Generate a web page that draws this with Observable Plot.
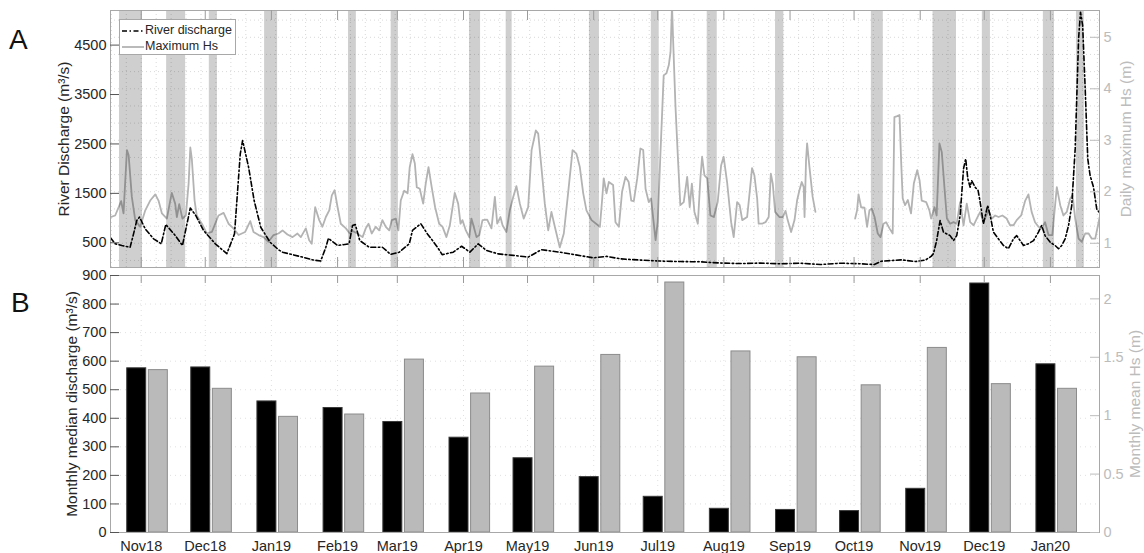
<!DOCTYPE html>
<html><head><meta charset="utf-8">
<script src="https://cdn.jsdelivr.net/npm/d3@7"></script>
<script src="https://cdn.jsdelivr.net/npm/@observablehq/plot@0.6"></script>
<style>
html,body{margin:0;padding:0;background:#fff;}
#wrap{position:relative;width:1144px;height:553px;overflow:hidden;font-family:"Liberation Sans",Arial,sans-serif;color:#262626;}
#top,#bot{position:absolute;left:0;}
#top{top:0;} #bot{top:270px;}
.letter{position:absolute;font-size:28px;color:#111;font-family:"Liberation Sans",Arial,sans-serif;}
#legend{position:absolute;left:119px;top:19px;width:115px;height:34px;border:1px solid #a8a8a8;background:#fff;font-size:12.5px;color:#262626;}
#legend .row{position:absolute;left:2px;height:14px;line-height:14px;white-space:nowrap;}
#legend svg{vertical-align:middle;}
</style></head><body>
<div id="wrap">
  <div id="top"></div>
  <div id="bot"></div>
  <div class="letter" style="left:9px;top:24px;">A</div>
  <div class="letter" style="left:11px;top:287px;">B</div>
  <div id="legend">
    <div class="row" style="top:3px;"><svg width="22" height="4"><line x1="0" y1="2" x2="22" y2="2" stroke="#000" stroke-width="1.6" stroke-dasharray="5,2.5,1.5,2.5"/></svg><span style="margin-left:1px">River discharge</span></div>
    <div class="row" style="top:19px;"><svg width="22" height="4"><line x1="0" y1="2" x2="22" y2="2" stroke="#b3b3b3" stroke-width="1.8"/></svg><span style="margin-left:1px">Maximum Hs</span></div>
  </div>
</div>
<script>
// ---------- data (days counted from 2018-11-01) ----------
const qDay = [-14.4,-12.2,-9.1,-5.2,-3.6,-2.1,-0.8,1.9,5.8,9.4,11.5,15.9,19.3,23.0,25.6,29.2,34.7,40.1,43.7,46.4,47.5,50.3,52.9,56.0,60.4,64.3,66.2,75.6,80.3,84.1,86.5,87.7,92.0,97.4,99.0,100.3,102.4,106.8,113.0,116.9,120.9,125.6,127.1,131.0,134.1,136.5,138.8,141.0,146.2,150.1,154.0,157.9,161.8,167.3,174.3,181.3,187.5,196.1,202.4,211.8,218.0,224.6,233.9,243.3,252.6,262.0,271.4,280.7,290.1,299.5,309.0,318.2,327.6,336.9,343.5,346.8,356.1,362.8,367.4,370.1,371.2,372.7,374.3,375.9,379.0,380.6,382.1,383.7,385.3,386.3,387.3,388.4,389.1,390.7,392.1,393.1,394.6,396.6,397.8,399.3,401.6,404.0,406.3,408.7,410.2,411.8,413.4,415.7,418.1,420.4,421.9,423.5,425.9,428.2,429.8,431.3,432.9,434.5,436.0,437.6,439.2,440.1,441.1,442.3,443.5,444.6,446.2,447.7,448.8];
const qVal = [600,480,445,410,680,950,1020,780,580,480,870,650,445,1205,1050,750,480,280,680,2300,2570,2030,1355,815,510,360,310,210,155,130,410,590,445,480,850,870,545,410,410,265,310,480,750,885,680,545,410,260,310,430,310,480,345,275,245,210,360,310,265,195,225,175,150,130,120,115,90,80,90,75,87,60,87,75,60,127,155,120,150,225,280,545,950,715,645,545,645,1050,2000,2200,1795,1625,1760,1625,1560,1320,885,1255,1050,715,580,445,380,580,645,545,445,480,545,715,850,645,510,445,380,445,580,850,1255,2400,4630,5165,4900,3615,2200,1860,1625,1185,1120];

const hsDay = [-14.4,-12.2,-9.4,-8.3,-6.7,-5.9,-4.4,-2.8,-0.5,1.9,4.2,6.6,8.1,9.7,12.0,14.3,15.9,16.7,17.8,19.3,20.9,22.2,23.0,23.7,25.0,26.0,28.4,30.7,33.1,36.2,38.6,40.9,43.2,45.6,48.7,51.1,52.6,55.0,57.3,59.6,62.0,64.3,66.2,68.5,70.9,73.2,74.8,77.1,78.7,79.9,81.5,83.4,84.9,86.5,88.1,89.3,90.6,92.0,93.5,95.9,97.7,99.0,101.3,103.7,105.2,106.5,108.0,109.9,111.5,113.0,114.6,116.2,117.4,119.3,120.5,121.6,123.2,124.8,125.8,127.1,128.2,129.1,130.5,132.1,133.3,134.6,136.1,137.7,139.6,141.2,143.0,144.6,146.9,148.5,149.6,150.5,152.1,153.7,154.7,155.8,157.1,158.4,159.9,162.1,164.1,165.7,166.8,168.3,169.3,171.1,172.7,174.3,175.8,177.4,179.2,181.3,182.9,184.9,186.0,187.5,189.1,190.7,192.2,193.8,196.1,198.0,200.0,202.1,203.9,205.5,207.1,208.6,211.0,214.9,216.0,216.7,218.0,219.1,221.1,222.2,223.8,225.3,226.9,228.4,229.6,230.8,232.4,233.9,235.2,236.3,237.8,238.9,239.9,241.0,242.0,243.3,244.8,246.1,247.2,248.0,248.7,249.2,250.3,251.4,252.6,254.2,255.8,257.0,258.0,259.2,260.8,262.0,262.8,263.9,265.2,266.7,268.3,270.1,271.7,272.9,274.5,276.4,277.6,279.2,280.4,281.6,283.9,285.1,286.2,287.3,288.6,289.3,290.9,292.5,294.0,295.0,295.9,297.0,299.0,300.6,301.9,302.9,304.5,306.1,307.3,308.4,309.5,310.4,310.8,311.5,312.0,313.1,314.6,315.9,316.5,334.5,335.4,336.1,337.3,338.9,340.1,341.2,342.3,343.6,345.1,346.4,347.8,349.0,350.6,352.1,352.9,354.2,355.3,356.1,356.8,357.9,359.2,360.7,362.0,363.6,364.7,365.7,367.8,369.3,370.1,371.7,372.7,374.0,375.1,376.4,377.5,379.0,380.6,382.1,383.7,385.3,386.8,388.4,390.0,391.5,393.1,394.6,397.0,398.5,400.1,401.7,403.5,405.5,407.1,408.7,410.2,412.3,414.2,415.7,417.2,418.8,420.4,421.9,423.5,425.1,426.9,428.2,429.0,430.6,432.1,433.7,435.3,436.4,437.6,439.2,440.7,442.3,443.9,445.4,447.0,448.6,449.0];
const hsVal = [1.51,1.54,1.82,1.58,2.81,2.71,1.90,1.45,1.32,1.64,1.83,1.95,1.83,1.58,1.48,1.98,1.77,1.51,1.76,1.48,1.54,2.16,2.86,2.64,1.83,1.54,1.38,1.19,1.22,1.54,1.59,1.38,1.29,1.16,1.22,1.43,1.22,1.16,1.12,1.03,1.16,1.19,1.25,1.17,1.12,1.19,1.12,1.29,1.06,0.99,1.70,1.45,1.32,1.51,1.64,1.93,2.03,1.70,1.38,1.29,1.19,1.24,1.19,1.12,1.29,1.38,1.19,1.32,1.25,1.45,1.32,1.25,1.45,1.48,1.25,1.83,2.02,1.97,2.48,2.73,2.55,2.09,2.06,1.77,2.16,2.48,2.09,1.70,1.38,1.32,1.12,1.35,1.98,1.77,1.38,1.45,1.25,1.12,1.48,1.32,1.12,1.16,1.45,1.46,1.29,1.90,1.38,1.51,1.35,1.22,1.64,1.90,2.11,1.77,1.48,1.70,2.81,3.19,3.13,2.48,1.77,1.25,1.61,1.32,0.92,1.19,1.97,2.81,2.74,2.48,1.97,1.64,1.45,1.32,1.87,2.26,1.97,2.19,2.13,1.41,1.32,2.00,2.29,2.19,1.83,1.82,2.26,2.84,2.81,2.06,1.80,1.87,1.48,1.06,1.41,2.77,4.26,4.30,4.46,4.71,5.62,4.97,3.68,2.71,1.74,1.80,2.29,1.70,2.16,1.61,1.38,2.26,2.68,2.32,2.26,1.54,1.51,1.80,2.51,2.68,2.19,1.41,1.12,1.80,1.74,1.45,1.51,2.00,2.46,2.32,1.87,1.38,1.38,1.41,1.51,2.35,2.16,1.61,1.51,1.51,1.63,1.45,1.22,1.45,1.83,2.03,2.19,2.09,1.51,2.61,2.94,2.48,1.90,1.61,null,1.48,1.64,1.95,1.70,1.69,1.32,1.64,1.67,1.51,1.19,1.12,1.38,1.41,1.29,1.19,3.45,3.47,3.49,2.55,1.87,1.74,1.84,1.58,2.16,2.42,2.22,1.83,1.80,1.64,1.48,1.70,1.54,2.94,2.77,2.06,1.48,1.38,1.41,1.38,1.80,1.35,1.77,1.41,1.35,1.48,1.61,1.41,1.64,1.48,1.54,1.51,1.54,1.48,1.35,1.35,1.45,1.54,1.83,1.95,1.61,1.41,1.32,1.29,1.41,1.16,1.16,1.74,2.09,1.74,1.54,1.61,1.87,1.93,1.48,1.09,1.03,1.19,1.19,1.09,1.09,1.41,1.50];

const bandStart = [-10.2,11.9,31.9,57.8,97.1,117.1,153.8,171.0,210.0,239.0,265.2,297.2,342.1,371.0,394.1,422.7,438.2];
const bandEnd   = [0.6,20.8,35.7,63.9,100.8,120.5,159.0,173.8,214.7,242.7,269.9,301.1,347.7,382.0,397.9,427.9,441.9];

const monthLabels = ["Nov18","Dec18","Jan19","Feb19","Mar19","Apr19","May19","Jun19","Jul19","Aug19","Sep19","Oct19","Nov19","Dec19","Jan20"];
const monthStart = ["2018-11-01","2018-12-01","2019-01-01","2019-02-01","2019-03-01","2019-04-01","2019-05-01","2019-06-01","2019-07-01","2019-08-01","2019-09-01","2019-10-01","2019-11-01","2019-12-01","2020-01-01"];
const medianQ = [575,578,459,436,387,332,260,194,125,83,79,75,153,872,589];
const meanHs  = [1.39,1.23,0.99,1.01,1.48,1.19,1.42,1.52,2.14,1.55,1.50,1.26,1.58,1.27,1.23];

const qTicksTop = [500,1500,2500,3500,4500];
const hsTicksTop = [1,2,3,4,5];
const qTicksBot = [0,100,200,300,400,500,600,700,800,900];
const hsTicksBot = [0,0.5,1,1.5,2];

// ---------- helpers ----------
const origin = Date.UTC(2018, 10, 1);
const toDate = d => new Date(origin + d * 864e5);
const xDomain = [toDate(-14.4), toDate(449)];
const W = 1144, ML = 110, MR = 45, innerW = W - ML - MR;
const qMax = 5200, hsLo = 0.53, hsHi = 5.52;
const hsToQ = h => (h - hsLo) / (hsHi - hsLo) * qMax;
const qToHs = q => hsLo + q / qMax * (hsHi - hsLo);
const botMax = 900, botHsMax = 2.2;
const hsToBot = h => h / botHsMax * botMax;
const botToHs = v => v / botMax * botHsMax;
const fmt = d3.format("~g");
const intFmt = d3.format("d");

const qSeries = qDay.map((d, i) => ({date: toDate(d), q: qVal[i]}));
const hsSeries = hsDay.map((d, i) => ({date: toDate(d), h: hsVal[i]}));
const bands = bandStart.map((s, i) => ({x1: toDate(s), x2: toDate(bandEnd[i])}));
const monthDates = monthStart.map(s => new Date(s + "T00:00:00Z"));
const labelOf = new Map(monthDates.map((d, i) => [+d, monthLabels[i]]));
const bars = monthDates.map((d, i) => ({date: d, q: medianQ[i], hs: meanHs[i]}));
const shift = (d, days) => new Date(+d + days * 864e5);

const gridTopY = d3.range(2, 17).map(k => hsToQ(k / 3));
const gridTopX = d3.range(-14, 449, 7).map(toDate);

const baseStyle = {fontFamily: "'Liberation Sans', Arial, sans-serif", fontSize: "14.5px", color: "#262626", background: "white", overflow: "visible"};
const AXC = "#9a9a9a", RC = "#bcbcbc";

// ---------- panel A ----------
const topH = 270, topMT = 10, topMB = 3, topInner = topH - topMT - topMB;
const topPlot = Plot.plot({
  width: W, height: topH, marginLeft: ML, marginRight: MR, marginTop: topMT, marginBottom: topMB,
  style: baseStyle,
  x: {type: "utc", domain: xDomain, axis: null},
  y: {domain: [0, qMax], axis: null},
  marks: [
    Plot.ruleY(gridTopY, {stroke: "#cfcfcf", strokeWidth: 0.8, strokeDasharray: "1,3"}),
    Plot.ruleX(gridTopX, {stroke: "#cfcfcf", strokeWidth: 0.8, strokeDasharray: "1,3"}),
    Plot.line(hsSeries, {x: "date", y: d => d.h == null ? NaN : hsToQ(d.h), stroke: "#b3b3b3", strokeWidth: 1.8, clip: true}),
    Plot.line(qSeries, {x: "date", y: "q", stroke: "#000", strokeWidth: 1.6, strokeDasharray: "5,2.5,1.5,2.5", clip: true}),
    Plot.rect(bands, {x1: "x1", x2: "x2", fill: "#000", fillOpacity: 0.19}),
    Plot.frame({stroke: "#a8a8a8"}),
    Plot.ruleX(monthDates, {stroke: AXC, insetBottom: topInner - 10}),
    Plot.ruleX(monthDates, {stroke: AXC, insetTop: topInner - 10}),
    Plot.ruleY(qTicksTop, {stroke: "#555", insetRight: innerW - 9}),
    Plot.ruleY(hsTicksTop.map(hsToQ), {stroke: RC, insetLeft: innerW - 9}),
    Plot.axisY({anchor: "left", ticks: qTicksTop, tickFormat: intFmt, tickSize: 0, tickPadding: 4, label: null, fill: "#262626"}),
    Plot.axisY({anchor: "right", ticks: hsTicksTop.map(hsToQ), tickFormat: v => fmt(Math.round(qToHs(v) * 100) / 100), tickSize: 0, tickPadding: 4, label: null, fill: RC}),
    Plot.text(["River Discharge (m³/s)"], {frameAnchor: "left", textAnchor: "middle", dx: -46, rotate: -90, fontSize: 15.5, fill: "#262626"}),
    Plot.text(["Daily maximum Hs (m)"], {frameAnchor: "right", textAnchor: "middle", dx: 27, rotate: -90, fontSize: 15.5, fill: RC})
  ]
});
document.getElementById("top").appendChild(topPlot);

// ---------- panel B ----------
const botH = 283, botMT = 5, botMB = 21, botInner = botH - botMT - botMB;
const botPlot = Plot.plot({
  width: W, height: botH, marginLeft: ML, marginRight: MR, marginTop: botMT, marginBottom: botMB,
  style: baseStyle,
  x: {type: "utc", domain: xDomain, axis: null},
  y: {domain: [0, botMax], axis: null},
  marks: [
    Plot.ruleY(qTicksBot.slice(1), {stroke: "#d8d8d8", strokeWidth: 0.8, strokeDasharray: "1,4"}),
    Plot.ruleX(monthDates, {stroke: "#d8d8d8", strokeWidth: 0.8, strokeDasharray: "1,4"}),
    Plot.rect(bars, {x1: d => shift(d.date, -6.56), x2: d => shift(d.date, 2.34), y1: 0, y2: "q", fill: "#000", stroke: "#3a3a3a", strokeWidth: 1}),
    Plot.rect(bars, {x1: d => shift(d.date, 3.56), x2: d => shift(d.date, 12.46), y1: 0, y2: d => hsToBot(d.hs), fill: "#bababa", stroke: "#8c8c8c", strokeWidth: 1}),
    Plot.frame({stroke: "#a8a8a8"}),
    Plot.ruleX(monthDates, {stroke: AXC, insetBottom: botInner - 8}),
    Plot.ruleY(qTicksBot, {stroke: "#555", insetRight: innerW - 9}),
    Plot.ruleY(hsTicksBot.map(hsToBot), {stroke: RC, insetLeft: innerW - 9}),
    Plot.axisY({anchor: "left", ticks: qTicksBot, tickFormat: intFmt, tickSize: 0, tickPadding: 4, label: null, fill: "#262626"}),
    Plot.axisY({anchor: "right", ticks: hsTicksBot.map(hsToBot), tickFormat: v => fmt(Math.round(botToHs(v) * 100) / 100), tickSize: 0, tickPadding: 4, label: null, fill: RC}),
    Plot.axisX({anchor: "bottom", ticks: monthDates, tickFormat: d => labelOf.get(+d), tickSize: 0, tickPadding: 8, label: null, fill: "#262626"}),
    Plot.text(["Monthly median discharge (m³/s)"], {frameAnchor: "left", textAnchor: "middle", dx: -38, rotate: -90, fontSize: 15.5, fill: "#262626"}),
    Plot.text(["Monthly mean Hs (m)"], {frameAnchor: "right", textAnchor: "middle", dx: 36, rotate: -90, fontSize: 15.5, fill: RC})
  ]
});
document.getElementById("bot").appendChild(botPlot);
</script>
</body></html>
